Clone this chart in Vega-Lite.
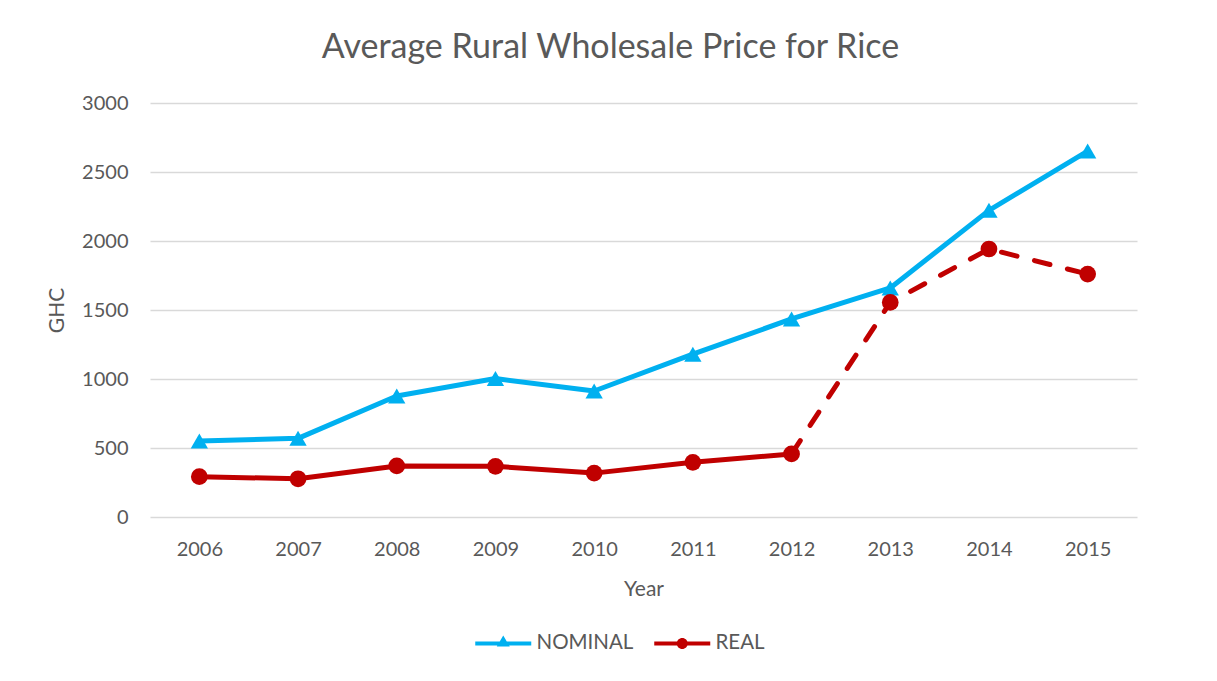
{
  "$schema": "https://vega.github.io/schema/vega-lite/v6.json",
  "width": 987,
  "height": 414,
  "autosize": {"type": "none"},
  "padding": {"left": 150, "top": 103, "right": 80, "bottom": 164},
  "background": "white",
  "config": {
    "font": "Lato",
    "view": {"stroke": null},
    "axis": {"labelColor": "#595959", "titleColor": "#595959", "labelFont": "Lato", "titleFont": "Lato", "titleFontWeight": "normal"}
  },
  "title": {
    "text": "Average Rural Wholesale Price for Rice",
    "font": "Lato",
    "fontSize": 34,
    "fontWeight": "normal",
    "color": "#595959",
    "anchor": "middle",
    "dx": -33,
    "offset": 28
  },
  "data": {
    "values": [
      {"year": "2006", "series": "NOMINAL", "price": 550},
      {"year": "2007", "series": "NOMINAL", "price": 570},
      {"year": "2008", "series": "NOMINAL", "price": 877},
      {"year": "2009", "series": "NOMINAL", "price": 1003},
      {"year": "2010", "series": "NOMINAL", "price": 913},
      {"year": "2011", "series": "NOMINAL", "price": 1180},
      {"year": "2012", "series": "NOMINAL", "price": 1435},
      {"year": "2013", "series": "NOMINAL", "price": 1660},
      {"year": "2014", "series": "NOMINAL", "price": 2222},
      {"year": "2015", "series": "NOMINAL", "price": 2652},
      {"year": "2006", "series": "REAL", "price": 292},
      {"year": "2007", "series": "REAL", "price": 277},
      {"year": "2008", "series": "REAL", "price": 370},
      {"year": "2009", "series": "REAL", "price": 367},
      {"year": "2010", "series": "REAL", "price": 318},
      {"year": "2011", "series": "REAL", "price": 396},
      {"year": "2012", "series": "REAL", "price": 457},
      {"year": "2013", "series": "REAL", "price": 1555},
      {"year": "2014", "series": "REAL", "price": 1942},
      {"year": "2015", "series": "REAL", "price": 1760}
    ]
  },
  "encoding": {
    "x": {
      "field": "year",
      "type": "ordinal",
      "scale": {"type": "point", "padding": 0.5},
      "axis": {
        "title": "Year",
        "titleFontSize": 21,
        "titlePadding": 19,
        "labelFontSize": 20,
        "labelAngle": 0,
        "labelPadding": 22,
        "ticks": false,
        "domain": false,
        "grid": false
      }
    },
    "y": {
      "field": "price",
      "type": "quantitative",
      "scale": {"domain": [0, 3000], "nice": false},
      "axis": {
        "title": "GHC",
        "titleFontSize": 21,
        "titlePadding": 14,
        "labelFontSize": 20,
        "labelPadding": 22,
        "format": "d",
        "values": [0, 500, 1000, 1500, 2000, 2500, 3000],
        "ticks": false,
        "domain": false,
        "gridColor": "#d9d9d9",
        "gridWidth": 1.5
      }
    },
    "color": {
      "field": "series",
      "type": "nominal",
      "scale": {"domain": ["NOMINAL", "REAL"], "range": ["#00B0F0", "#C00000"]},
      "legend": {
        "title": null,
        "orient": "none",
        "direction": "horizontal",
        "legendX": 343,
        "legendY": 530,
        "labelFont": "Lato",
        "labelFontSize": 20.5,
        "labelColor": "#595959",
        "labelOffset": 23,
        "columnPadding": 20,
        "symbolSize": 400,
        "symbolStrokeWidth": 0,
        "encode": {
          "symbols": {
            "update": {
              "shape": {"signal": "datum.value === 'NOMINAL' ? 'M-2.8,-0.2H2.8V0.2H-2.8Z M0,-0.8L0.65,0.3H-0.65Z' : 'M-2.8,-0.2H2.8V0.2H-2.8Z M0.55,0A0.55,0.55 0 1 1 -0.55,0A0.55,0.55 0 1 1 0.55,0Z'"},
              "fill": {"signal": "datum.value === 'NOMINAL' ? '#00B0F0' : '#C00000'"},
              "opacity": {"value": 1},
              "strokeWidth": {"value": 0}
            }
          }
        }
      }
    }
  },
  "layer": [
    {
      "transform": [{"filter": "datum.series === 'NOMINAL' || datum.year <= '2012'"}],
      "mark": {"type": "line", "strokeWidth": 5, "strokeCap": "round", "strokeJoin": "round"},
      "encoding": {"detail": {"field": "series"}}
    },
    {
      "transform": [{"filter": "datum.series === 'REAL' && datum.year >= '2012'"}],
      "mark": {"type": "line", "strokeWidth": 5, "strokeCap": "round", "strokeDash": [16, 18]},
      "encoding": {}
    },
    {
      "transform": [{"filter": "datum.series === 'NOMINAL'"}],
      "mark": {"type": "point", "filled": true, "opacity": 1, "shape": "triangle-up", "size": 300},
      "encoding": {}
    },
    {
      "transform": [{"filter": "datum.series === 'REAL'"}],
      "mark": {"type": "point", "filled": true, "opacity": 1, "shape": "circle", "size": 280},
      "encoding": {}
    }
  ]
}
